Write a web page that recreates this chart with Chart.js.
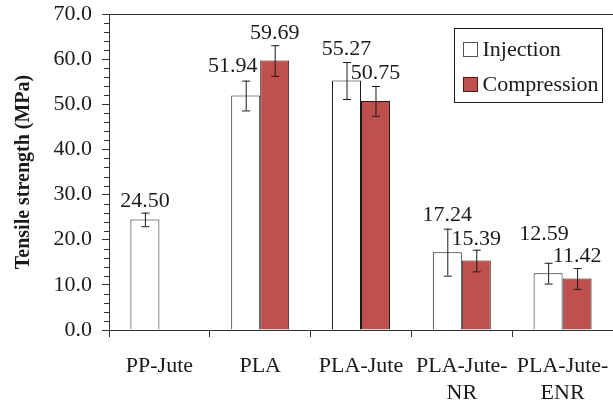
<!DOCTYPE html>
<html>
<head>
<meta charset="utf-8">
<script src="https://cdn.jsdelivr.net/npm/chart.js@4.4.1/dist/chart.umd.min.js"></script>
<style>
  html, body { margin: 0; padding: 0; background: #fff; }
  #wrap { width: 613px; height: 402px; position: relative; }
</style>
</head>
<body>
<div id="wrap"><canvas id="chart"></canvas></div>
<script>
// Tensile strength of jute composites, injection vs compression moulding
const categories = ['PP-Jute', 'PLA', 'PLA-Jute', ['PLA-Jute-', 'NR'], ['PLA-Jute-', 'ENR']];
const injection = [24.50, 51.94, 55.27, 17.24, 12.59];
const injectionErr = [1.5, 3.3, 4.1, 5.2, 2.3];
const compression = [null, 59.69, 50.75, 15.39, 11.42];
const compressionErr = [null, 3.4, 3.3, 2.4, 2.3];
const yTickValues = [0, 10, 20, 30, 40, 50, 60, 70];

const FONT = "'Liberation Serif', serif";
const INK = '#1a1a1a';
const AXIS = '#333333';
const RED = '#C0504D';

// small per-label nudges (px) so value labels don't collide
const labelNudge = [
  [[0, 0], [-13, -3], [0, -1], [0, -2], [-4, -17]],
  [[0, 0], [0, 0], [0, -1], [0, 1], [0, 0]]
];
const errors = [injectionErr, compressionErr];

const errorBarsAndLabels = {
  id: 'errorBarsAndLabels',
  afterDatasetsDraw(chart) {
    const ctx = chart.ctx;
    const y = chart.scales.y;
    ctx.save();
    chart.data.datasets.forEach((ds, di) => {
      const meta = chart.getDatasetMeta(di);
      meta.data.forEach((bar, i) => {
        const v = ds.data[i];
        if (v === null || v === undefined) return;
        const e = errors[di][i];
        const top = y.getPixelForValue(v + e);
        const bot = y.getPixelForValue(v - e);
        // whisker
        ctx.strokeStyle = INK;
        ctx.lineWidth = 1;
        ctx.beginPath();
        ctx.moveTo(bar.x + 0.5, top);
        ctx.lineTo(bar.x + 0.5, bot);
        ctx.moveTo(bar.x - 3.5, top + 0.5);
        ctx.lineTo(bar.x + 4.5, top + 0.5);
        ctx.moveTo(bar.x - 3.5, bot + 0.5);
        ctx.lineTo(bar.x + 4.5, bot + 0.5);
        ctx.stroke();
        // value label
        const [dx, dy] = labelNudge[di][i];
        ctx.fillStyle = INK;
        ctx.font = '22px ' + FONT;
        ctx.textAlign = 'center';
        ctx.textBaseline = 'alphabetic';
        ctx.fillText(v.toFixed(2), bar.x + dx, top - 6 + dy);
      });
    });
    ctx.restore();
  }
};

const frameAndLegend = {
  id: 'frameAndLegend',
  afterDraw(chart) {
    const ctx = chart.ctx;
    const a = chart.chartArea;
    const y = chart.scales.y;
    ctx.save();
    // top frame line
    ctx.strokeStyle = AXIS;
    ctx.lineWidth = 1;
    ctx.beginPath();
    ctx.moveTo(a.left, Math.round(a.top) + 0.5);
    ctx.lineTo(a.right, Math.round(a.top) + 0.5);
    ctx.stroke();
    // minor ticks on the value axis
    ctx.beginPath();
    for (let v = 2; v < 70; v += 2) {
      if (v % 10 === 0) continue;
      const py = Math.round(y.getPixelForValue(v)) + 0.5;
      ctx.moveTo(a.left - 5, py);
      ctx.lineTo(a.left, py);
    }
    ctx.stroke();

    // legend box
    const bw = 148, bh = 74;
    const bx = Math.round(a.right - 11 - bw) + 0.5;
    const by = Math.round(a.top + 14) + 0.5;
    ctx.fillStyle = '#fff';
    ctx.fillRect(bx, by, bw, bh);
    ctx.strokeStyle = INK;
    ctx.strokeRect(bx, by, bw, bh);
    ctx.font = '22px ' + FONT;
    ctx.textAlign = 'left';
    ctx.textBaseline = 'middle';
    chart.data.datasets.forEach((ds, i) => {
      const cy = by + 21 + i * 35;
      ctx.fillStyle = ds.backgroundColor;
      ctx.fillRect(bx + 9, cy - 7, 14, 14);
      ctx.strokeStyle = i === 0 ? '#555' : '#5a1414';
      ctx.strokeRect(bx + 9, cy - 7, 14, 14);
      ctx.fillStyle = INK;
      ctx.fillText(ds.label, bx + 28, cy + 1);
    });
    ctx.restore();
  }
};

new Chart(document.getElementById('chart'), {
  type: 'bar',
  data: {
    labels: categories,
    datasets: [
      { label: 'Injection', data: injection, backgroundColor: '#ffffff', borderColor: INK, borderWidth: 1 },
      { label: 'Compression', data: compression, backgroundColor: RED, borderColor: INK, borderWidth: 1 }
    ]
  },
  options: {
    responsive: true,
    maintainAspectRatio: false,
    animation: false,
    layout: { padding: { top: 14, right: 0, bottom: 0, left: 0 } },
    datasets: { bar: { categoryPercentage: 0.575, barPercentage: 1.0 } },
    plugins: { legend: { display: false }, tooltip: { enabled: false } },
    scales: {
      x: {
        offset: true,
        grid: { display: true, drawOnChartArea: false, offset: true, tickLength: 7, color: AXIS },
        border: { display: true, color: AXIS },
        ticks: {
          color: INK, padding: 15, maxRotation: 0, autoSkip: false,
          font: { family: FONT, size: 22, lineHeight: 1.25 }
        },
        afterFit(s) { s.height = 72; s.paddingLeft = 0; s.paddingRight = 0; }
      },
      y: {
        min: 0, max: 70,
        afterBuildTicks(s) { s.ticks = yTickValues.map(v => ({ value: v })); },
        grid: { display: true, drawOnChartArea: false, tickLength: 7, color: AXIS },
        border: { display: true, color: AXIS },
        ticks: {
          color: INK, padding: 10,
          font: { family: FONT, size: 22 },
          callback: v => Number(v).toFixed(1)
        },
        title: {
          display: true, text: 'Tensile strength (MPa)', color: INK,
          font: { family: FONT, size: 20, weight: 'bold' },
          padding: { top: 12, bottom: 0 }
        },
        afterFit(s) { s.width = 109; s.paddingTop = 0; s.paddingBottom = 0; }
      }
    }
  },
  plugins: [errorBarsAndLabels, frameAndLegend]
});
</script>
</body>
</html>
